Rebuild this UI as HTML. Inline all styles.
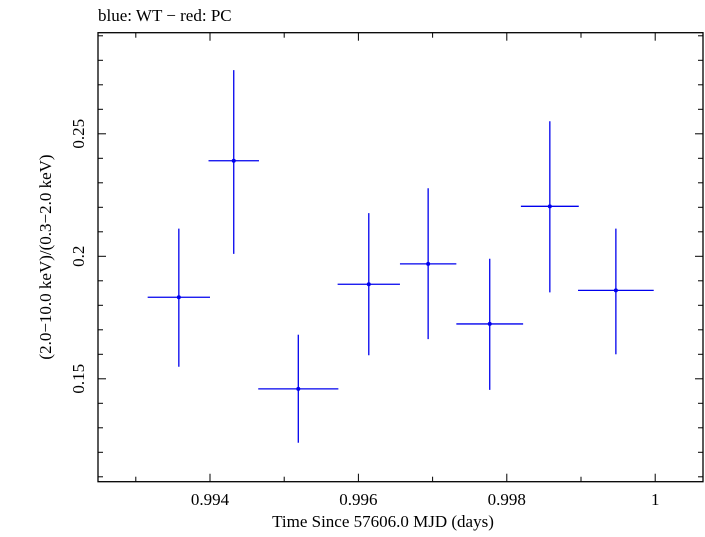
<!DOCTYPE html>
<html><head><meta charset="utf-8"><style>
body{margin:0;background:#fff}
svg text{font-family:"Liberation Serif",serif;fill:#000}
</style></head><body>
<svg id="c" width="705" height="532">
<text x="98" y="21" font-size="17">blue: WT − red: PC</text>
<rect x="98" y="32.7" width="605" height="449" fill="none" stroke="#000" stroke-width="1.3"/>
<g id="ax"></g><g id="pts"></g>
<text x="383" y="527" font-size="17" text-anchor="middle">Time Since 57606.0 MJD (days)</text>
<text transform="translate(51,257) rotate(-90)" font-size="17" text-anchor="middle">(2.0−10.0 keV)/(0.3−2.0 keV)</text>
</svg>
<script>
const xs=[0.99358,0.99432,0.99519,0.99614,0.99694,0.99777,0.99858,0.99947];
const xerr=[0.00042,0.00034,0.00054,0.00042,0.00038,0.00045,0.00039,0.00051];
const ys=[0.1833,0.2390,0.1459,0.1886,0.1969,0.1724,0.2204,0.1861];
const yhi=[0.2113,0.2760,0.1680,0.2176,0.2278,0.1990,0.2551,0.2113];
const ylo=[0.1549,0.2010,0.1239,0.1596,0.1662,0.1455,0.1853,0.1600];
const xTicks=["0.994","0.996","0.998","1"];
const yTicks=["0.15","0.2","0.25"];
const X=v=>210+(v-0.994)*74200;
const Y=v=>256.3-(v-0.2)*2450;
const NS="http://www.w3.org/2000/svg";
function mk(p,t,a){const e=document.createElementNS(NS,t);for(const k in a)e.setAttribute(k,a[k]);p.appendChild(e);return e;}
const ax=document.getElementById('ax'),pts=document.getElementById('pts');
for(let i=993;i<=1000;i++){const v=i/1000,x=X(v),maj=i%2==0,l=maj?8:5;
 const t=mk(ax,'line',{x1:x,x2:x,y1:481.7,y2:481.7-l,stroke:'#000'});
 
 
 mk(ax,'line',{x1:x,x2:x,y1:32.7,y2:32.7+l,stroke:'#000'});}
xTicks.forEach(s=>{const e=mk(ax,'text',{x:X(parseFloat(s)),y:505,'font-size':17,'text-anchor':'middle'});e.textContent=s;
 
 });
for(let i=11;i<=29;i++){const v=i/100,y=Y(v),maj=i%5==0,l=maj?8:5;
 const t=mk(ax,'line',{x1:98,x2:98+l,y1:y,y2:y,stroke:'#000'});
 
 
 mk(ax,'line',{x1:703,x2:703-l,y1:y,y2:y,stroke:'#000'});}
yTicks.forEach(s=>{const y=Y(parseFloat(s));const e=mk(ax,'text',{transform:`translate(84,${y}) rotate(-90)`,'font-size':17,'text-anchor':'middle'});e.textContent=s;
 
 });
xs.forEach((v,i)=>{const g=mk(pts,'g',{stroke:'#0000ee','stroke-width':1.3});
 
 
 mk(g,'line',{x1:X(v-xerr[i]),x2:X(v+xerr[i]),y1:Y(ys[i]),y2:Y(ys[i])});
 mk(g,'line',{x1:X(v),x2:X(v),y1:Y(yhi[i]),y2:Y(ylo[i])});
 mk(g,'circle',{cx:X(v),cy:Y(ys[i]),r:2,fill:'#0000ee',stroke:'none'});});
</script>
</body></html>
